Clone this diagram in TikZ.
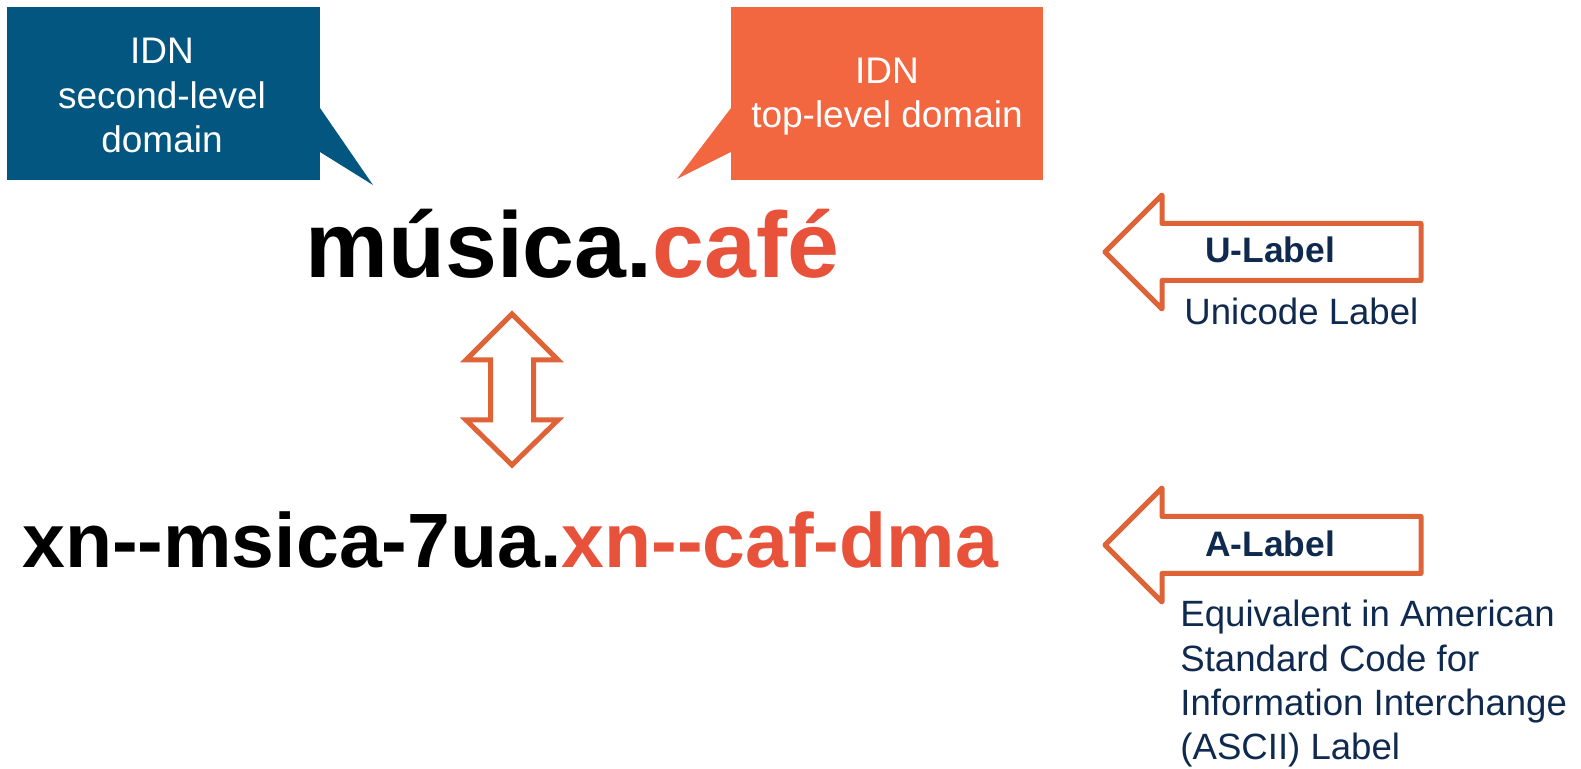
\documentclass[tikz,border=0pt]{standalone}
\usepackage{fontspec}
\setmainfont{Liberation Sans}[Ligatures=TeXOff]
\usepackage{xcolor}
\usepackage{tikz}
\usetikzlibrary{calc}
\definecolor{SldBlue}{HTML}{02567F}
\definecolor{TldOrange}{HTML}{F26640}
\definecolor{ArrowOrange}{HTML}{DE6336}
\definecolor{CafeRed}{HTML}{E8523A}
\definecolor{LabelNavy}{HTML}{0F2A4E}

\begin{document}
\begin{tikzpicture}[x=0.5pt, y=-0.5pt,
	callouttext/.style={text=white, inner sep=0, align=center, anchor=base, font=\fontsize{18.5}{22.3}\selectfont},
	hollow/.style={draw=ArrowOrange, line width=2.5pt, fill=white},
	labelname/.style={text=LabelNavy, inner sep=0, anchor=base, font=\bfseries\fontsize{17.7}{21}\selectfont},
	labeltext/.style={text=LabelNavy, inner sep=0, anchor=base west, align=left, font=\fontsize{18.3}{22.2}\selectfont}]

	\useasboundingbox (0,0) rectangle (1581,769);

	% callouts
	\coordinate (S1) at (7,7);
	\coordinate (S2) at (320,180);
	\coordinate (Sp) at (373,185);
	\coordinate (T1) at (731,7);
	\coordinate (T2) at (1043,180);
	\coordinate (Tp) at (677,179);

	\fill[SldBlue] (S1) rectangle (S2);
	\fill[SldBlue] (S2 |- 0,108) -- (Sp) -- (S2 |- 0,152) -- cycle;
	\fill[TldOrange] (T1) rectangle (T2);
	\fill[TldOrange] (T1 |- 0,108) -- (Tp) -- (T1 |- 0,152) -- cycle;

	% base of a multi-line node = its last line
	\node[callouttext] (sld) at (162,153) {IDN\\second-level\\domain};
	\node[callouttext] (tld) at (887,128) {IDN\\top-level domain};

	% domain names
	\node[inner sep=0, anchor=base west, font=\bfseries\fontsize{46.6}{52}\selectfont] (ulabelname) at (305,278) {música.\textcolor{CafeRed}{café}};
	\node[inner sep=0, anchor=base west, font=\bfseries\fontsize{38.5}{45}\selectfont] (alabelname) at (22,568) {xn--msica-7ua.\textcolor{CafeRed}{xn--caf-dma}};

	% two way arrow
	\def\hw{46}
	\def\sw{21.5}
	\coordinate (up) at (512,314);
	\coordinate (down) at (512,465);
	\draw[hollow, line join=miter] (up) -- ++(\hw,46) -- ++(-\hw+\sw,0) -- ++(0,60) -- ++(\hw-\sw,0) -- (down)
		-- ++(-\hw,-45) -- ++(\hw-\sw,0) -- ++(0,-60) -- ++(-\hw+\sw,0) -- cycle;

	% label arrows
	\coordinate (U) at (1105,252);
	\coordinate (A) at (1105,545);
	\foreach \tip in {U,A}{
		\draw[hollow, line join=round] (\tip) -- ++(57,-57) -- ++(0,28.5) -- ++(259,0) -- ++(0,57) -- ++(-259,0) -- ++(0,28.5) -- cycle;
	}

	\node[labelname] (ulabel) at (1270,263) {U-Label};
	\node[labelname] (alabel) at (1270,557) {A-Label};
	\node[labeltext] (utext) at (1184,325) {Unicode Label};
	\node[labeltext] (atext) at (1180,760) {Equivalent in American\\Standard Code for\\Information Interchange\\(ASCII) Label};

\end{tikzpicture}
\end{document}
